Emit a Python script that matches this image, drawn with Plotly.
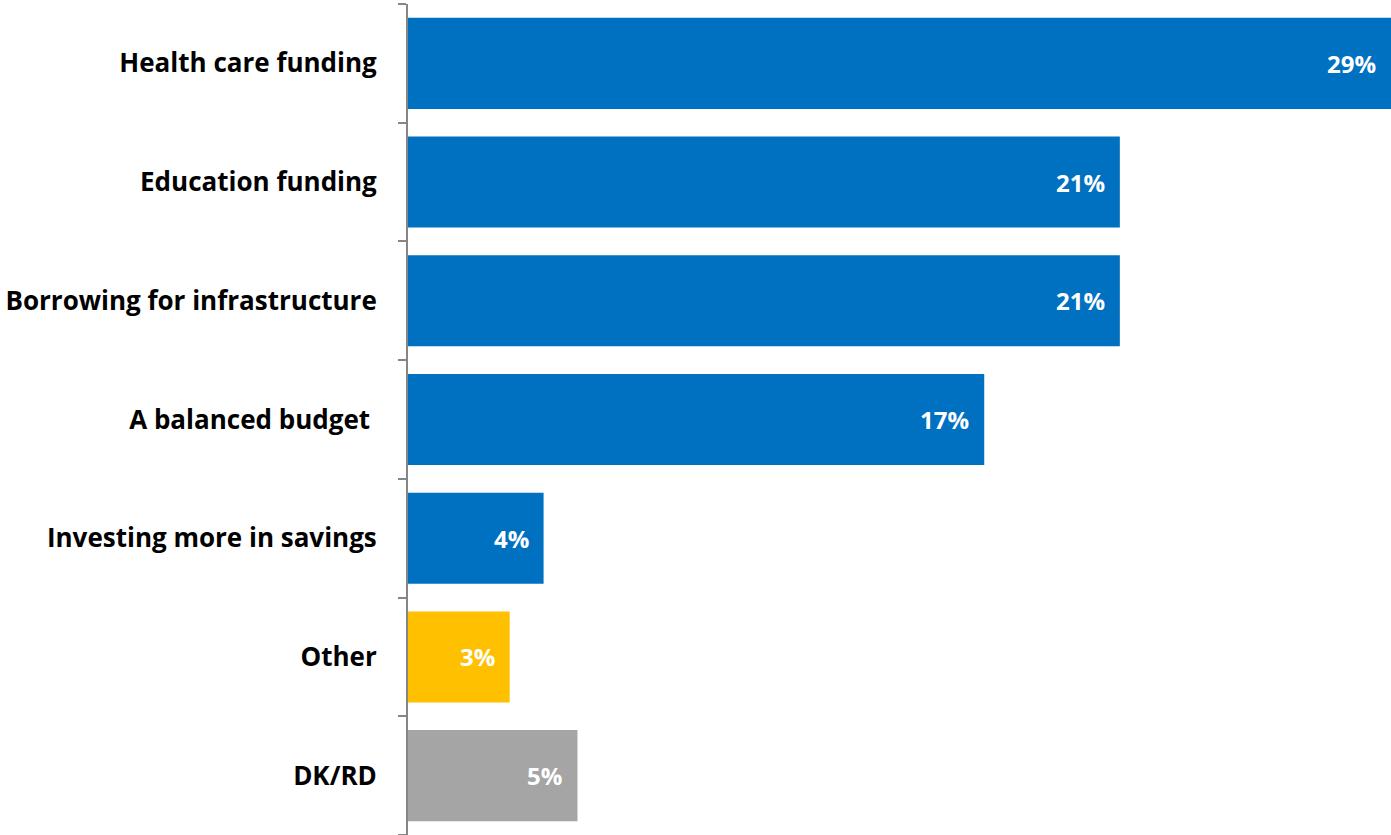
import plotly.graph_objects as go

categories = ["Health care funding", "Education funding", "Borrowing for infrastructure",
              "A balanced budget ", "Investing more in savings", "Other", "DK/RD"]
values = [29, 21, 21, 17, 4, 3, 5]
labels = ["29%", "21%", "21%", "17%", "4%", "3%", "5%"]
colors = ["#0070C0"] * 5 + ["#FFC000", "#A5A5A5"]

fig = go.Figure()
fig.add_trace(go.Bar(
    x=values, y=categories, orientation="h",
    marker=dict(color=colors, line=dict(width=0)),
    hoverinfo="skip",
))
for c, v, t in zip(categories, values, labels):
    fig.add_annotation(x=v, y=c, text="<b>%s</b>" % t, showarrow=False,
                       xanchor="right", xshift=-13,
                       font=dict(family="Open Sans", size=24, color="white"))

fig.update_layout(
    width=1391, height=835,
    margin=dict(l=408, r=0, t=4, b=0),
    paper_bgcolor="white", plot_bgcolor="white",
    bargap=0.233, showlegend=False,
    font=dict(family="Open Sans", color="black"),
)
fig.update_xaxes(range=[0, 29], visible=False, showgrid=False, zeroline=False)
fig.update_yaxes(
    categoryorder="array", categoryarray=categories[::-1],
    showline=True, linecolor="#868686", linewidth=2,
    ticks="outside", ticklen=8, tickwidth=2, tickcolor="#868686",
    tickson="boundaries", showgrid=False,
    tickfont=dict(family="Open Sans", size=26, color="black", weight="bold"),
    ticklabelstandoff=24,
)
fig.write_html("out.html", config={"displayModeBar": False},
               post_script="document.body.style.margin='0';document.body.style.overflow='hidden';")
